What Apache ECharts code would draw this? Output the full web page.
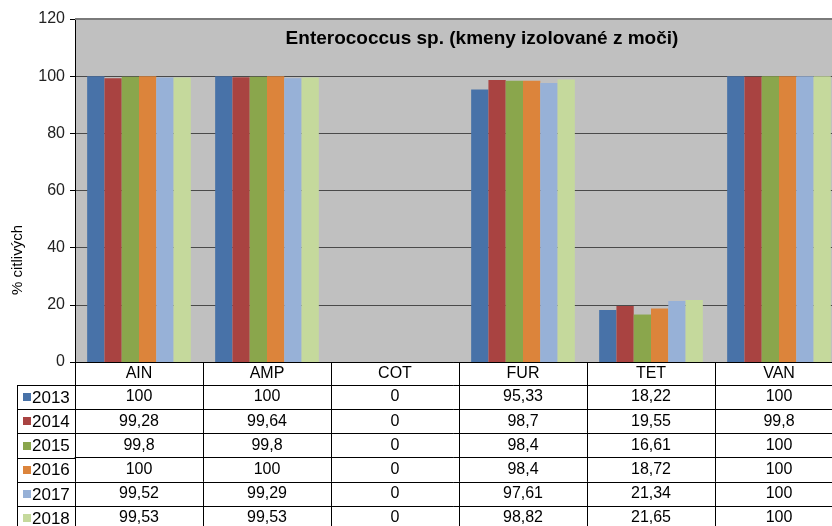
<!DOCTYPE html>
<html>
<head>
<meta charset="utf-8">
<script src="https://cdn.jsdelivr.net/npm/echarts@6/dist/echarts.min.js"></script>
<style>
  html, body { margin: 0; padding: 0; background: #fff; }
  #chart { width: 832px; height: 526px; }
</style>
</head>
<body>
<div id="chart"></div>
<script>
  // data
  const categories = ['AIN', 'AMP', 'COT', 'FUR', 'TET', 'VAN']
  const years = ['2013', '2014', '2015', '2016', '2017', '2018']
  const v2013 = [100, 100, 0, 95.33, 18.22, 100]
  const v2014 = [99.28, 99.64, 0, 98.7, 19.55, 99.8]
  const v2015 = [99.8, 99.8, 0, 98.4, 16.61, 100]
  const v2016 = [100, 100, 0, 98.4, 18.72, 100]
  const v2017 = [99.52, 99.29, 0, 97.61, 21.34, 100]
  const v2018 = [99.53, 99.53, 0, 98.82, 21.65, 100]
  const yTicks = [0, 20, 40, 60, 80, 100, 120]

  const rows = [v2013, v2014, v2015, v2016, v2017, v2018]
  const colors = ['#4872a8', '#a94341', '#8aa64c', '#dc843b', '#97b1d7', '#c5d99c']
  const font = 'Liberation Sans, Arial, sans-serif'

  // layout
  const gLeft = 75, gTop = 19, gHeight = 343
  const headH = 23, rowH = 24.2
  const baseY = gTop + gHeight

  const fmt = v => String(v).replace('.', ',')

  // main axis = header row, one extra axis per table row
  const xAxes = [{
    type: 'category',
    data: categories,
    gridIndex: 0,
    position: 'bottom',
    axisLine: { show: true, lineStyle: { color: '#000', width: 1 } },
    axisTick: { show: true, length: headH, lineStyle: { color: '#000' } },
    axisLabel: { color: '#000', fontSize: 16, fontFamily: font, margin: 4 },
    splitLine: { show: false }
  }]
  rows.forEach((vals, i) => {
    xAxes.push({
      type: 'category',
      data: categories,
      gridIndex: 0,
      position: 'bottom',
      offset: headH + rowH * i,
      axisLine: { show: true, lineStyle: { color: '#000', width: 1 } },
      axisTick: { show: true, length: rowH, lineStyle: { color: '#000' } },
      axisLabel: {
        color: '#000', fontSize: 16, fontFamily: font, margin: 4,
        formatter: (val, idx) => fmt(vals[idx])
      },
      splitLine: { show: false }
    })
  })

  const series = years.map((y, i) => ({
    name: y,
    type: 'bar',
    xAxisIndex: 0,
    data: rows[i],
    itemStyle: { color: colors[i] },
    barGap: 0,
    barCategoryGap: '19%'
  }))

  // left column of the table: lines + year keys
  const tableParts = [{
    type: 'line',
    shape: { x1: 17.5, y1: baseY + headH, x2: 17.5, y2: 526 },
    style: { stroke: '#000', lineWidth: 1 }
  }]
  years.forEach((y, i) => {
    const top = baseY + headH + rowH * i
    const ly = Math.round(top) + 0.5
    tableParts.push({
      type: 'line',
      shape: { x1: 17, y1: ly, x2: gLeft, y2: ly },
      style: { stroke: '#000', lineWidth: 1 }
    })
    tableParts.push({
      type: 'rect',
      shape: { x: 23, y: Math.round(top + rowH / 2 - 4), width: 8, height: 8 },
      style: { fill: colors[i] }
    })
    tableParts.push({
      type: 'text',
      x: 32,
      y: top + rowH / 2 + 1,
      style: { text: y, font: '17px ' + font, fill: '#000', textVerticalAlign: 'middle' }
    })
  })

  const chart = echarts.init(document.getElementById('chart'), null, { renderer: 'canvas' })
  chart.setOption({
    animation: false,
    backgroundColor: '#fff',
    textStyle: { fontFamily: font },
    title: {
      text: 'Enterococcus sp. (kmeny izolované z moči)',
      left: 477,
      top: 24,
      textAlign: 'center',
      textStyle: { fontSize: 19, fontWeight: 'bold', color: '#000', fontFamily: font }
    },
    grid: {
      left: gLeft, top: gTop, right: -11, height: gHeight,
      outerBoundsMode: 'none',
      containLabel: false,
      show: true, backgroundColor: '#c0c0c0', borderWidth: 0
    },
    xAxis: xAxes,
    yAxis: {
      type: 'value',
      min: yTicks[0],
      max: yTicks[yTicks.length - 1],
      interval: 20,
      axisLine: { show: true, lineStyle: { color: '#000' } },
      axisTick: { show: true, length: 5, lineStyle: { color: '#000' } },
      axisLabel: { color: '#222', fontSize: 16, fontFamily: font, margin: 10 },
      splitLine: { show: true, lineStyle: { color: '#4a4a4a', width: 1 } }
    },
    graphic: [
      {
        type: 'text',
        x: 18,
        y: 260,
        rotation: Math.PI / 2,
        style: {
          text: '% citlivých',
          font: '15px ' + font,
          fill: '#000',
          textAlign: 'center',
          textVerticalAlign: 'middle'
        }
      },
      {
        // top edge of the plot area is a lighter grey line
        type: 'line',
        shape: { x1: gLeft, y1: gTop, x2: 832, y2: gTop },
        style: { stroke: '#7a7a7a', lineWidth: 2 },
        z: 10
      }
    ].concat(tableParts),
    series
  })
</script>
</body>
</html>
